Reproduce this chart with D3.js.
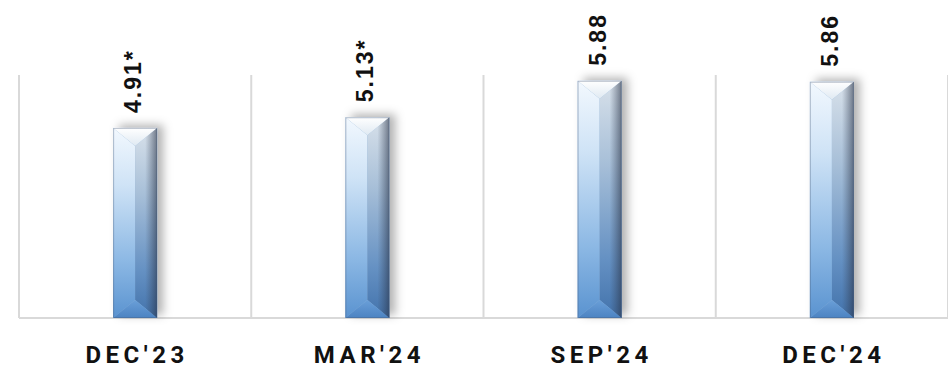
<!DOCTYPE html>
<html><head><meta charset="utf-8">
<script src="https://cdn.jsdelivr.net/npm/d3@7"></script>
<style>body{margin:0;background:#fff}svg{display:block}</style>
</head><body>
<svg id="c" width="948" height="368"></svg>
<script>
const categories = ["DEC'23","MAR'24","SEP'24","DEC'24"];
const values = [4.91, 5.13, 5.88, 5.86];
const valueLabels = ["4.91*","5.13*","5.88","5.86"];
const yDomain = [1, 6];

const svg = d3.select("#c");
const m = {left:19, right:0, top:75, bottom:50};
const W = 948, H = 368;
const x = d3.scaleBand().domain(categories).range([m.left, W - m.right]).paddingInner(0).paddingOuter(0);
const y = d3.scaleLinear().domain(yDomain).range([H - m.bottom, m.top]);

const defs = svg.append("defs");
function lg(id, stops, x1=0,y1=0,x2=0,y2=1){
  const g = defs.append("linearGradient").attr("id",id).attr("x1",x1).attr("y1",y1).attr("x2",x2).attr("y2",y2);
  stops.forEach(s=>g.append("stop").attr("offset",s[0]).attr("stop-color",s[1]));
}
lg("gL", [[0,"#f2f8fe"],[0.3,"#cfe3f6"],[0.7,"#8cb8e4"],[1,"#5a93d0"]]);
lg("gR", [[0,"#d8e1ea"],[0.35,"#a7bfd8"],[0.75,"#6591c3"],[1,"#4272ab"]]);
lg("gRedge", [[0,"rgba(60,70,90,0)"],[1,"rgba(40,50,70,0.6)"]],0,0,1,0);
lg("gT", [[0,"#ffffff"],[1,"#dfe9f2"]]);
lg("gB", [[0,"#6a9fd8"],[1,"#4c83c2"]]);
const f = defs.append("filter").attr("id","sh").attr("x","-50%").attr("y","-20%").attr("width","200%").attr("height","140%");
f.append("feDropShadow").attr("dx",6).attr("dy",-3).attr("stdDeviation",5).attr("flood-color","#000").attr("flood-opacity",0.3);

// grid
const grid = svg.append("g").attr("stroke","#d9d9d9").attr("stroke-width",2);
const bounds = categories.map(c=>x(c)).concat([x.range()[1]]);
grid.selectAll("line.v").data(bounds).join("line").attr("class","v")
  .attr("x1",d=>d).attr("x2",d=>d).attr("y1",y(yDomain[1])).attr("y2",y(yDomain[0]));
grid.append("line").attr("x1",m.left).attr("x2",W).attr("y1",y(yDomain[0])).attr("y2",y(yDomain[0]));

// bars
const bw = 44;
const bars = svg.append("g").selectAll("g").data(categories).join("g");
bars.each(function(c,i){
  const g = d3.select(this);
  const xc = x(c) + x.bandwidth()/2;
  const x0 = xc - bw/2, x1 = xc + bw/2;
  const y0 = y(values[i]), y1 = y(yDomain[0]);
  const d = 18;
  const pts = a=>a.map(p=>p.join(",")).join(" ");
  g.append("rect").attr("x",x0).attr("y",y0).attr("width",bw).attr("height",y1-y0)
    .attr("fill","#8fb3d8").attr("filter","url(#sh)");
  g.append("polygon").attr("points",pts([[x0,y0],[xc,y0+d],[xc,y1-d],[x0,y1]])).attr("fill","url(#gL)");
  g.append("polygon").attr("points",pts([[x1,y0],[xc,y0+d],[xc,y1-d],[x1,y1]])).attr("fill","url(#gR)");
  g.append("rect").attr("x",x1-12).attr("y",y0).attr("width",12).attr("height",y1-y0).attr("fill","url(#gRedge)");
  g.append("polygon").attr("points",pts([[x0,y0],[x1,y0],[xc,y0+d]])).attr("fill","url(#gT)");
  g.append("polygon").attr("points",pts([[x0,y1],[x1,y1],[xc,y1-d]])).attr("fill","url(#gB)");
  g.append("rect").attr("x",x0+0.5).attr("y",y0+0.5).attr("width",bw-1).attr("height",y1-y0-1)
    .attr("fill","none").attr("stroke","rgba(70,90,120,0.35)").attr("stroke-width",1);
  // value label
  g.append("text").attr("transform",`translate(${xc+6},${y0-15}) rotate(-90)`)
    .attr("font-family","Arial, 'Liberation Sans', sans-serif").attr("font-weight","bold")
    .attr("font-size",23).attr("letter-spacing","2px").attr("fill","#111")
    .text(valueLabels[i]);
});

// category axis labels
svg.append("g").selectAll("text").data(categories).join("text")
  .attr("x",c=>x(c)+x.bandwidth()/2 + 2).attr("y",363)
  .attr("text-anchor","middle").attr("font-family","Roboto, sans-serif").attr("font-weight","bold")
  .attr("font-size",24).attr("letter-spacing","4.5px").attr("fill","#111")
  .text(d=>d);
</script>
</body></html>
